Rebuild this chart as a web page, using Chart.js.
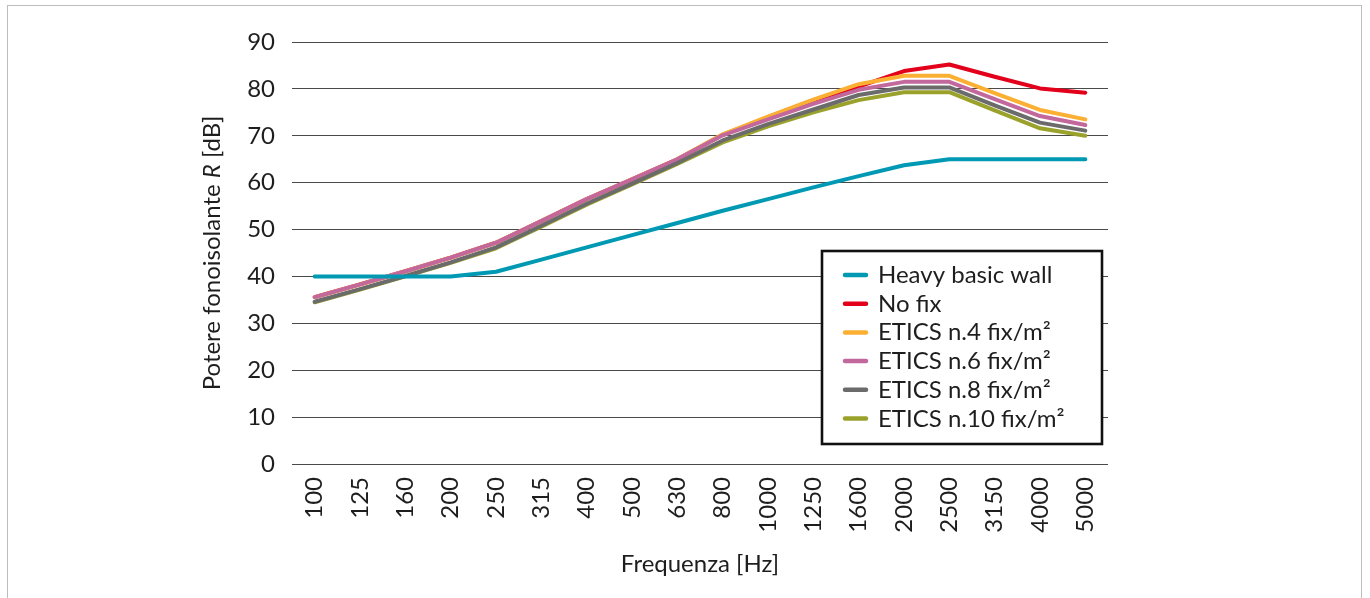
<!DOCTYPE html>
<html>
<head>
<meta charset="utf-8">
<script src="https://cdn.jsdelivr.net/npm/chart.js@4.4.1/dist/chart.umd.min.js"></script>
<style>
  html, body { margin: 0; padding: 0; background: #fff; }
  #wrap { position: relative; width: 1370px; height: 598px; overflow: hidden; }
  #frame { position: absolute; left: 7px; top: 5px; width: 1355px; height: 620px; border: 1px solid #bdbdbd; box-sizing: border-box; }
  canvas { position: absolute; left: 0; top: 0; }
</style>
</head>
<body>
<div id="wrap">
  <div id="frame"></div>
  <canvas id="c" width="1370" height="598"></canvas>
</div>
<script>
const categories = ['100','125','160','200','250','315','400','500','630','800','1000','1250','1600','2000','2500','3150','4000','5000'];
const heavyBasicWall = [40,40,40,40,41,43.6,46.2,48.8,51.4,54,56.5,59,61.4,63.7,65,65,65,65];
const noFix  = [35.6,38.3,41.1,44,47.2,51.8,56.5,60.7,65,70.2,74,77.6,80.5,83.8,85.2,82.6,80.1,79.2];
const fix4   = [35.6,38.3,41.1,44,47.2,51.8,56.5,60.7,65,70.3,74.1,77.7,81,82.8,82.8,79.1,75.5,73.5];
const fix6   = [35.6,38.3,41.1,44,47.2,51.8,56.5,60.7,65,70.1,73.5,76.8,79.8,81.5,81.5,77.8,74.2,72.3];
const fix8   = [34.6,37.3,40.1,43,46.2,50.8,55.5,59.8,64.2,69,72.5,75.6,78.7,80.3,80.3,76.5,72.8,71.1];
const fix10  = [34.5,37.2,40,42.9,46,50.6,55.3,59.6,64,68.6,72,75,77.6,79.3,79.3,75.4,71.6,70];
const seriesNames = ['Heavy basic wall','No fix','ETICS n.4 fix/m²','ETICS n.6 fix/m²','ETICS n.8 fix/m²','ETICS n.10 fix/m²'];
const seriesColors = ['#0099b4','#e3001b','#fbb034','#c3689c','#6b6b6b','#9ba22b'];
const yTicks = [0,10,20,30,40,50,60,70,80,90];
const xTitle = 'Frequenza [Hz]';
const yTitleParts = [['Potere fonoisolante ', false], ['R', true], [' [dB]', false]];

const FONT = 'Lato';
const TXT = '#1e1e1e';
const drawOrder = [0, 4, 3, 2, 1, 5];

const seriesData = [heavyBasicWall, noFix, fix4, fix6, fix8, fix10];
const datasets = seriesData.map((d, i) => ({
  label: seriesNames[i],
  data: d,
  borderColor: seriesColors[i],
  backgroundColor: seriesColors[i],
  borderWidth: 4,
  pointRadius: 0,
  tension: 0,
  fill: false,
  borderCapStyle: 'round',
  borderJoinStyle: 'round',
  order: drawOrder[i]
}));

const custom = {
  id: 'custom',
  afterDraw(chart) {
    const ctx = chart.ctx;
    const ca = chart.chartArea;
    ctx.save();
    ctx.fillStyle = TXT;
    ctx.font = '24px ' + FONT;
    ctx.textAlign = 'center';
    ctx.textBaseline = 'alphabetic';
    ctx.fillText(xTitle, (ca.left + ca.right) / 2, 572);

    // y title with italic R
    ctx.save();
    ctx.translate(220, (ca.top + ca.bottom) / 2);
    ctx.rotate(-Math.PI / 2);
    ctx.textAlign = 'left';
    let widths = yTitleParts.map(p => { ctx.font = (p[1] ? 'italic ' : '') + '24px ' + FONT; return ctx.measureText(p[0]).width; });
    let total = widths.reduce((a, b) => a + b, 0);
    let x = -total / 2;
    yTitleParts.forEach((p, i) => {
      ctx.font = (p[1] ? 'italic ' : '') + '24px ' + FONT;
      ctx.fillText(p[0], x, 0);
      x += widths[i];
    });
    ctx.restore();

    // legend
    const bx = 822, by = 251, bw = 280, bh = 193;
    ctx.fillStyle = '#fff';
    ctx.fillRect(bx, by, bw, bh);
    ctx.lineWidth = 2.6;
    ctx.strokeStyle = '#111';
    ctx.strokeRect(bx, by, bw, bh);
    chart.data.datasets.forEach((ds, i) => {
      const cy = 275 + i * 28.7;
      ctx.strokeStyle = ds.borderColor;
      ctx.lineWidth = 4.5;
      ctx.lineCap = 'round';
      ctx.beginPath();
      ctx.moveTo(845, cy);
      ctx.lineTo(866, cy);
      ctx.stroke();
      ctx.fillStyle = TXT;
      ctx.font = '24px ' + FONT;
      ctx.textAlign = 'left';
      ctx.textBaseline = 'alphabetic';
      ctx.fillText(ds.label, 878, cy + 8);
    });
    ctx.restore();
  }
};

new Chart(document.getElementById('c'), {
  type: 'line',
  data: { labels: categories, datasets },
  options: {
    responsive: false,
    animation: false,
    devicePixelRatio: 1,
    layout: { padding: { top: 42, right: 262, bottom: 0, left: 0 } },
    plugins: { legend: { display: false }, tooltip: { enabled: false } },
    scales: {
      x: {
        offset: true,
        grid: { display: false, drawTicks: false },
        border: { display: false },
        ticks: { minRotation: 90, maxRotation: 90, padding: 13, color: TXT, font: { family: FONT, size: 24 }, autoSkip: false },
        afterFit(s) { s.height = 134; }
      },
      y: {
        min: 0, max: 90,
        afterBuildTicks(s) { s.ticks = yTicks.map(v => ({ value: v })); },
        grid: { color: '#4a4a4a', lineWidth: 1, drawTicks: false },
        border: { display: false },
        ticks: { padding: 17, color: TXT, font: { family: FONT, size: 24 } },
        afterFit(s) { s.width = 292; }
      }
    }
  },
  plugins: [custom]
});
</script>
</body>
</html>
